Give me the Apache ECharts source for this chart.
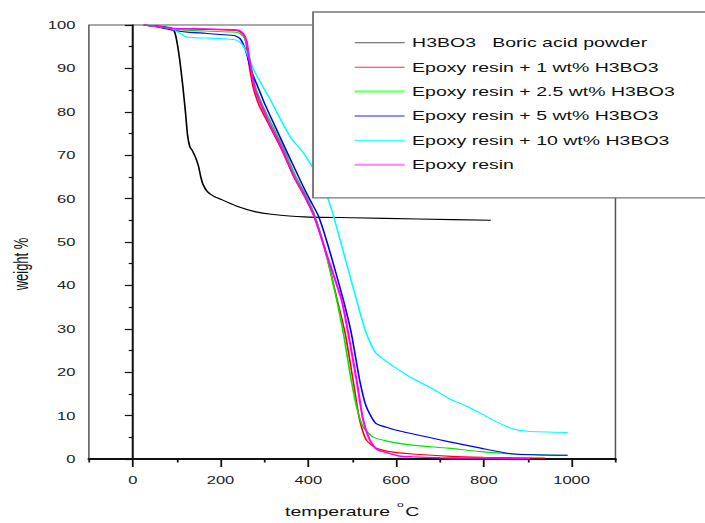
<!DOCTYPE html>
<html>
<head>
<meta charset="utf-8">
<script src="https://cdn.jsdelivr.net/npm/echarts@6/dist/echarts.min.js"></script>
<style>
html,body{margin:0;padding:0;background:#fff;overflow:hidden}
#c{width:470px;height:523px;transform:scaleX(1.5);transform-origin:0 0}
</style>
</head>
<body>
<div id="c"></div>
<script>
// ---- data (temperature °C, weight %) ----
const seriesNames = [
  'H3BO3   Boric acid powder',
  'Epoxy resin + 1 wt% H3BO3',
  'Epoxy resin + 2.5 wt% H3BO3',
  'Epoxy resin + 5 wt% H3BO3',
  'Epoxy resin + 10 wt% H3BO3',
  'Epoxy resin'
];
const xTickLabels = [0, 200, 400, 600, 800, 1000];
const xMinorTicks = [-100, 100, 300, 500, 700, 900, 1100];

const boricAcid = [[25,100],[60,99.7],[88,99.3],[95,98.5],[100,96.5],[107,92],[114,86],[120,80],[125,74.5],[130,72],[136,71],[143,69.5],[150,67.4],[155,65],[160,63.3],[170,61.6],[185,60.5],[204,59.7],[241,58.1],[278,57.0],[316,56.4],[390,55.8],[500,55.6],[650,55.3],[816,55.0]];
const epoxy1 = [[25,100],[60,99.6],[92,99.2],[166,99.0],[226,98.8],[241,98.6],[252,97.8],[258,96],[262,93],[268,89],[276,85],[290,81],[308,77.5],[338,71.6],[368,64.8],[390,60.8],[414,55.8],[440,47.5],[466,36.6],[484,29],[502,18.2],[517,9.0],[532,4.4],[555,2.5],[585,1.7],[637,1.15],[726,0.6],[800,0.4],[939,0.2]];
const epoxy25 = [[25,100],[60,99.5],[92,99.0],[166,98.6],[226,98.4],[241,98.2],[253,97.3],[260,95.5],[266,92.5],[273,88.5],[282,85],[298,81],[315,77.5],[345,71.3],[372,65.0],[395,60.7],[416,55.8],[440,47.5],[465,36.6],[480,29.0],[495,19.8],[510,12.1],[525,7.4],[547,5.1],[585,4.0],[637,3.2],[719,2.5],[793,1.7],[868,1.15],[991,0.85]];
const epoxy5 = [[25,100],[60,99.5],[92,98.8],[130,98.3],[166,98.1],[200,97.8],[233,97.5],[245,96.8],[255,94.8],[262,92.5],[270,89.5],[286,85.5],[300,82],[325,76.5],[353,70.4],[385,63.5],[405,59.5],[424,55.8],[450,47.5],[480,36.6],[498,29],[517,18.2],[532,12.1],[554,8.2],[585,7.1],[637,5.8],[719,4.0],[793,2.5],[868,1.15],[991,0.85]];
const epoxy10 = [[25,100],[60,99.6],[92,99.0],[107,98.1],[122,97.3],[140,97.1],[166,97.0],[200,96.9],[233,96.6],[245,96],[256,94.5],[263,92.8],[278,89.2],[300,85.2],[316,82.3],[338,78],[361,73.9],[390,70.4],[435,62.7],[458,55.8],[487,45.1],[510,36.6],[532,29],[554,24.4],[585,22.0],[607,20.5],[637,18.6],[681,16.3],[719,14.0],[760,12.2],[793,10.5],[830,8.5],[868,6.9],[900,6.4],[991,6.1]];
const epoxyPure = [[25,100],[60,99.6],[92,99.2],[166,99.1],[226,98.9],[241,98.8],[252,98.0],[260,96.1],[264,93],[271,89.2],[278,85.3],[293,81.5],[308,78.0],[338,72.0],[368,65.0],[390,61.0],[414,55.8],[440,47.7],[476,36.6],[491,29],[510,18.2],[525,9.0],[540,4.4],[555,2.3],[570,1.7],[607,0.7],[637,0.5],[700,0.3],[800,0.2],[906,0.15]];

const allData = [boricAcid, epoxy1, epoxy25, epoxy5, epoxy10, epoxyPure];
const lineColors = ['#000000','#ff0000','#00e600','#0000ff','#00ffff','#ff00ff'];
const lineWidths = [1.1, 1.1, 1.1, 1.1, 1.1, 1.4];
const legendColors = ['#555555','#ff3030','#80ff80','#2020ff','#40ffff','#ff80ff'];
const legendWidths = [1, 1, 2.5, 1, 1.5, 2];

const FONT = 'Liberation Sans, Arial, sans-serif';
const chart = echarts.init(document.getElementById('c'), null, {renderer: 'svg'});

const series = allData.map((d, i) => ({
  name: seriesNames[i],
  type: 'line',
  data: d,
  xAxisIndex: 0,
  symbol: 'none',
  showSymbol: false,
  smooth: 0.2,
  lineStyle: {color: lineColors[i], width: lineWidths[i]},
  itemStyle: {color: lineColors[i]},
  z: 2
}));

chart.setOption({
  animation: false,
  backgroundColor: '#ffffff',
  grid: {left: 54.2, right: 59.7, top: 25, bottom: 64, show: true, borderColor: '#555', borderWidth: 1, backgroundColor: 'transparent'},
  legend: {
    orient: 'vertical',
    left: 208.7,
    top: 12,
    padding: [24.3, 140, 26.5, 26.5],
    itemWidth: 33.3,
    itemHeight: 14,
    itemGap: 11.4,
    backgroundColor: '#ffffff',
    borderColor: '#777777',
    borderWidth: 1.3,
    selectedMode: false,
    z: 10,
    textStyle: {fontFamily: FONT, fontSize: 13, color: '#111'},
    data: seriesNames.map((n, i) => ({
      name: n,
      itemStyle: {color: 'rgba(0,0,0,0)', borderColor: 'rgba(0,0,0,0)', borderWidth: 0},
      lineStyle: {color: legendColors[i], width: legendWidths[i]}
    }))
  },
  xAxis: [{
    type: 'value', min: -100, max: 1100, position: 'bottom',
    name: '{b|temperature }{sup|o}{b|C}', nameLocation: 'middle', nameGap: 41,
    nameTextStyle: {fontFamily: FONT, fontSize: 13, color: '#111',
      rich: {
        b: {fontFamily: FONT, fontSize: 13, color: '#111', verticalAlign: 'bottom', padding: [5, 0, 0, 0]},
        sup: {fontFamily: FONT, fontSize: 8, color: '#111', verticalAlign: 'top', padding: [0, 1, 0, 1]}
      }},
    axisLine: {show: true, onZero: false, lineStyle: {color: '#111', width: 2}},
    axisTick: {show: true, inside: false, length: 8, customValues: xTickLabels, lineStyle: {color: '#111', width: 1.2}},
    axisLabel: {show: true, margin: 16, customValues: xTickLabels, formatter: v => String(v), fontFamily: FONT, fontSize: 11, color: '#222'},
    splitLine: {show: false}
  }, {
    type: 'value', min: -100, max: 1100, position: 'bottom', gridIndex: 0,
    axisLine: {show: false},
    axisTick: {show: true, inside: false, length: 3.5, customValues: xMinorTicks, lineStyle: {color: '#111', width: 1.2}},
    axisLabel: {show: false},
    splitLine: {show: false}
  }],
  yAxis: {
    type: 'value', min: 0, max: 100, interval: 10,
    name: 'weight %', nameLocation: 'middle', nameGap: 33,
    nameTextStyle: {fontFamily: FONT, fontSize: 13, color: '#111', padding: [0, 44, 0, 0]},
    axisLine: {show: true, lineStyle: {color: '#111', width: 1.35}},
    axisTick: {show: true, inside: false, length: 5.3, lineStyle: {color: '#111', width: 1.2}},
    minorTick: {show: true, splitNumber: 2, length: 2.7, lineStyle: {color: '#111', width: 1.2}},
    axisLabel: {margin: 9, fontFamily: FONT, fontSize: 11, color: '#222'},
    splitLine: {show: false}
  },
  series: series
});
</script>
</body>
</html>
